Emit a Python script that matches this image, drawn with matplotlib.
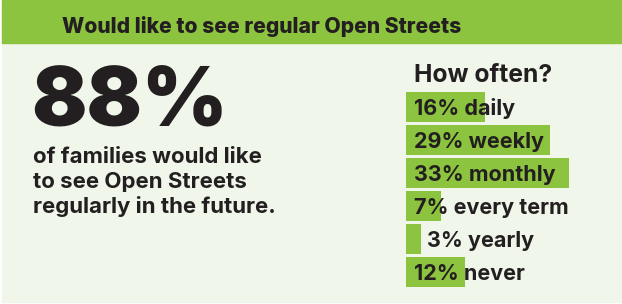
import matplotlib
matplotlib.use("Agg")
import matplotlib.pyplot as plt
from matplotlib.patches import Rectangle
import matplotlib.transforms as mtransforms

# ---- data ----
title = "Would like to see regular Open Streets"
headline = "88%"
headline_lines = ["of families would like", "to see Open Streets", "regularly in the future."]
bar_heading = "How often?"
categories = ["daily", "weekly", "monthly", "every term", "yearly", "never"]
values = [16, 29, 33, 7, 3, 12]

GREEN = "#8CC43F"
LIGHT = "#F0F6EA"
INK = "#231F20"
FONT = ["Inter", "DejaVu Sans"]

W, H = 622, 304
fig = plt.figure(figsize=(W / 100, H / 100), dpi=100, facecolor="white")

# overlay axes in pixel coordinates
ov = fig.add_axes([0, 0, 1, 1])
ov.set_xlim(0, W)
ov.set_ylim(H, 0)
ov.axis("off")
ov.add_patch(Rectangle((2, 0), W - 2, 302, color=LIGHT, zorder=0))
ov.add_patch(Rectangle((2, 0), W - 2, 43, color=GREEN, zorder=1))

ov.text(262, 33, title, ha="center", va="baseline", fontsize=15.2,
        fontweight="heavy", color=INK, family=FONT, zorder=3)
ov.text(31, 125, headline, ha="left", va="baseline", fontsize=59,
        fontweight="black", color=INK, family=FONT, zorder=3)
for i, line in enumerate(headline_lines):
    ov.text(33, 163 + 25 * i, line, ha="left", va="baseline", fontsize=16,
            fontweight="bold", color=INK, family=FONT, zorder=3)
ov.text(414, 82, bar_heading, ha="left", va="baseline", fontsize=17.8,
        fontweight="bold", color=INK, family=FONT, zorder=3)

# bar axes: 1% ~ 4.95 px
left_px = 406
ax = fig.add_axes([left_px / W, 15.5 / H, 198 / W, 198 / H])
ax.set_xlim(0, 40)
ypos = list(range(len(categories)))
ax.barh(ypos, values, height=30 / 33, color=GREEN, left=0, zorder=1)
ax.set_ylim(len(categories) - 0.5, -0.5)
ax.axis("off")
ax.patch.set_alpha(0)

for y, v, c in zip(ypos, values, categories):
    if v < 5:
        tr = mtransforms.offset_copy(ax.transData, fig=fig, x=6, y=-8, units="dots")
        x = v
    else:
        tr = mtransforms.offset_copy(ax.transData, fig=fig, x=8, y=-8, units="dots")
        x = 0
    ax.text(x, y, f"{v}% {c}", transform=tr, ha="left", va="baseline",
            fontsize=15.5, fontweight="bold", color=INK, family=FONT,
            zorder=3, clip_on=False)

fig.savefig("out.png", dpi=100, facecolor="white")
